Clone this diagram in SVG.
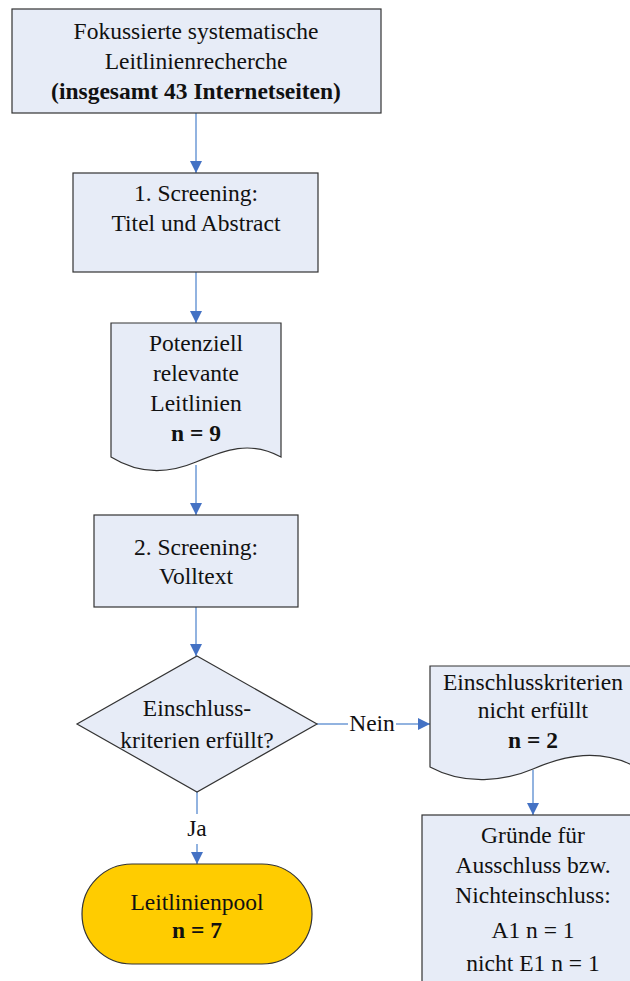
<svg xmlns="http://www.w3.org/2000/svg" width="630" height="981" viewBox="0 0 630 981">
<defs>
<marker id="ah" viewBox="0 0 12 12" refX="12" refY="6" markerWidth="12" markerHeight="12" markerUnits="userSpaceOnUse" orient="auto">
<path d="M0,0 L12,6 L0,12 Z" fill="#4472C4"/>
</marker>
<style>
.box{fill:#E7ECF7;stroke:#333;stroke-width:1.2}
.pool{fill:#FFCC00;stroke:#333;stroke-width:1.2}
.t{font-family:"Liberation Serif","Times New Roman",serif;font-size:23.5px;fill:#111;text-anchor:middle}
.b{font-weight:bold}
.c{fill:none;stroke:#6E9AD6;stroke-width:1.5;marker-end:url(#ah)}
.l{fill:none;stroke:#6E9AD6;stroke-width:1.5}
</style>
</defs>
<rect width="630" height="981" fill="#fff"/>
<g id="connectors">
<path class="c" d="M196,113 V173"/>
<path class="c" d="M196,272 V323"/>
<path class="c" d="M196,465 V515"/>
<path class="c" d="M196,607 V656"/>
<path class="l" d="M317,724 H348"/>
<path class="c" d="M396,724 H430"/>
<path class="c" d="M533,770 V815"/>
<path class="l" d="M197,792 V814"/>
<path class="c" d="M197,844 V864"/>
<text class="t" x="372" y="731">Nein</text>
<text class="t" x="197" y="836">Ja</text>
</g>
<g id="n1">
<rect class="box" x="12" y="9" width="369" height="104"/>
<text class="t" x="196" y="39">Fokussierte systematische</text>
<text class="t" x="196" y="69">Leitlinienrecherche</text>
<text class="t b" x="196" y="99">(insgesamt 43 Internetseiten)</text>
</g>
<g id="n2">
<rect class="box" x="73" y="173" width="245" height="99"/>
<text class="t" x="196" y="201">1. Screening:</text>
<text class="t" x="196" y="231">Titel und Abstract</text>
</g>
<g id="n3">
<path class="box" d="M111,323 H281 V457 C250,440 225,450 196,462 C170,473 140,475 111,457 Z"/>
<text class="t" x="196" y="351">Potenziell</text>
<text class="t" x="196" y="381">relevante</text>
<text class="t" x="196" y="411">Leitlinien</text>
<text class="t b" x="196" y="441">n = 9</text>
</g>
<g id="n4">
<rect class="box" x="94" y="515" width="204" height="92"/>
<text class="t" x="196" y="555">2. Screening:</text>
<text class="t" x="196" y="584">Volltext</text>
</g>
<g id="n5">
<path class="box" d="M197,656 L317,724 L197,792 L77,724 Z"/>
<text class="t" x="197" y="716">Einschluss-</text>
<text class="t" x="197" y="748">kriterien erfüllt?</text>
</g>
<g id="n6">
<path class="box" d="M430,666 H636 V767 C600,748 565,755 533,769 C505,781 465,786 430,767 Z"/>
<text class="t" x="533" y="690">Einschlusskriterien</text>
<text class="t" x="533" y="718">nicht erfüllt</text>
<text class="t b" x="533" y="748">n = 2</text>
</g>
<g id="n7">
<rect class="box" x="422" y="815" width="220" height="180"/>
<text class="t" x="533" y="843">Gründe für</text>
<text class="t" x="533" y="873">Ausschluss bzw.</text>
<text class="t" x="533" y="903">Nichteinschluss:</text>
<text class="t" x="533" y="938">A1 n = 1</text>
<text class="t" x="533" y="971">nicht E1 n = 1</text>
</g>
<g id="n8">
<rect class="pool" x="82" y="864" width="230" height="100" rx="50" ry="50"/>
<text class="t" x="197" y="910">Leitlinienpool</text>
<text class="t b" x="197" y="938">n = 7</text>
</g>
</svg>
